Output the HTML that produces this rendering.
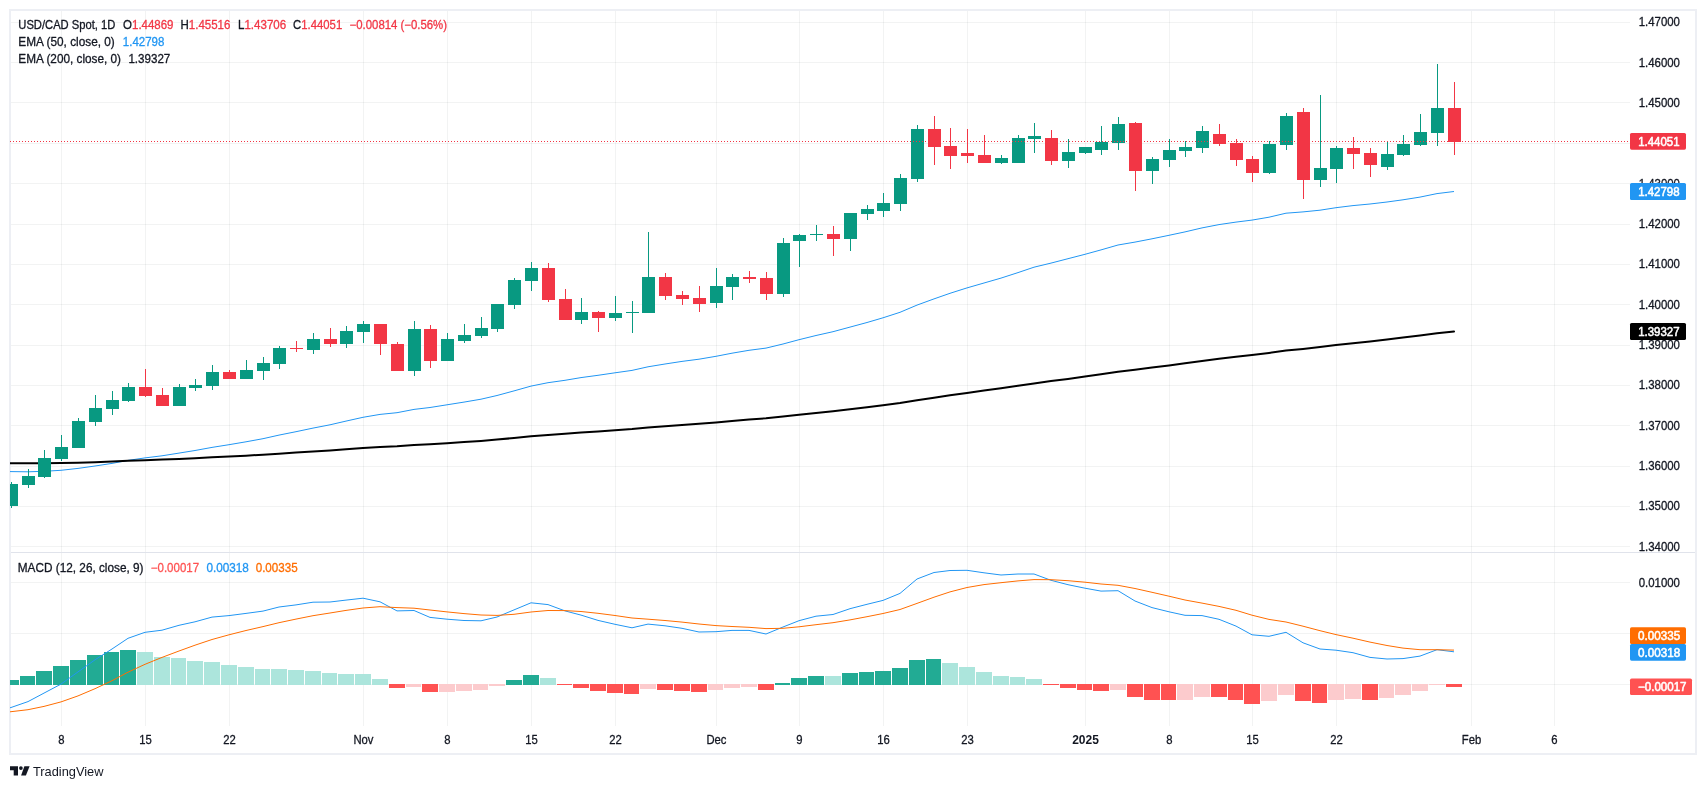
<!DOCTYPE html>
<html lang="en"><head><meta charset="utf-8"><title>USD/CAD Spot, 1D</title>
<style>html,body{margin:0;padding:0;background:#fff}body{width:1706px;height:789px;position:relative;overflow:hidden;font-family:"Liberation Sans",Arial,sans-serif}</style>
</head><body>
<svg width="1706" height="789" viewBox="0 0 1706 789" style="position:absolute;left:0;top:0;will-change:transform">
<defs><clipPath id="cm"><rect x="10" y="11" width="1620" height="541"/></clipPath><clipPath id="cd"><rect x="10" y="553" width="1620" height="173"/></clipPath></defs>
<g fill="#2a2e39" fill-opacity="0.06" shape-rendering="crispEdges"><rect x="61" y="11" width="1" height="541"/><rect x="61" y="553" width="1" height="173"/><rect x="145" y="11" width="1" height="541"/><rect x="145" y="553" width="1" height="173"/><rect x="229" y="11" width="1" height="541"/><rect x="229" y="553" width="1" height="173"/><rect x="363" y="11" width="1" height="541"/><rect x="363" y="553" width="1" height="173"/><rect x="447" y="11" width="1" height="541"/><rect x="447" y="553" width="1" height="173"/><rect x="531" y="11" width="1" height="541"/><rect x="531" y="553" width="1" height="173"/><rect x="615" y="11" width="1" height="541"/><rect x="615" y="553" width="1" height="173"/><rect x="716" y="11" width="1" height="541"/><rect x="716" y="553" width="1" height="173"/><rect x="799" y="11" width="1" height="541"/><rect x="799" y="553" width="1" height="173"/><rect x="883" y="11" width="1" height="541"/><rect x="883" y="553" width="1" height="173"/><rect x="967" y="11" width="1" height="541"/><rect x="967" y="553" width="1" height="173"/><rect x="1085" y="11" width="1" height="541"/><rect x="1085" y="553" width="1" height="173"/><rect x="1169" y="11" width="1" height="541"/><rect x="1169" y="553" width="1" height="173"/><rect x="1252" y="11" width="1" height="541"/><rect x="1252" y="553" width="1" height="173"/><rect x="1336" y="11" width="1" height="541"/><rect x="1336" y="553" width="1" height="173"/><rect x="1471" y="11" width="1" height="541"/><rect x="1471" y="553" width="1" height="173"/><rect x="1554" y="11" width="1" height="541"/><rect x="1554" y="553" width="1" height="173"/><rect x="11" y="22" width="1619" height="1"/><rect x="11" y="62" width="1619" height="1"/><rect x="11" y="102" width="1619" height="1"/><rect x="11" y="143" width="1619" height="1"/><rect x="11" y="183" width="1619" height="1"/><rect x="11" y="224" width="1619" height="1"/><rect x="11" y="264" width="1619" height="1"/><rect x="11" y="304" width="1619" height="1"/><rect x="11" y="345" width="1619" height="1"/><rect x="11" y="385" width="1619" height="1"/><rect x="11" y="425" width="1619" height="1"/><rect x="11" y="466" width="1619" height="1"/><rect x="11" y="506" width="1619" height="1"/><rect x="11" y="546" width="1619" height="1"/><rect x="11" y="582" width="1619" height="1"/><rect x="11" y="633" width="1619" height="1"/><rect x="11" y="684" width="1619" height="1"/></g>
<g fill="#edeff4" shape-rendering="crispEdges"><rect x="9" y="9" width="1688" height="2"/><rect x="9" y="753" width="1688" height="2"/><rect x="9" y="9" width="2" height="746"/><rect x="1695" y="9" width="2" height="746"/></g>
<rect x="11" y="552" width="1684" height="1" fill="#e0e3eb" shape-rendering="crispEdges"/>
<g clip-path="url(#cm)">
<polyline points="-5.8,471.1 11.0,471.6 28.0,471.8 44.0,471.3 61.0,470.3 78.0,468.4 95.0,466.0 112.0,463.4 128.0,460.4 145.0,457.9 162.0,455.8 179.0,453.1 195.0,450.5 212.0,447.4 229.0,444.7 246.0,441.8 263.0,438.7 279.0,435.1 296.0,431.7 313.0,428.1 330.0,424.8 346.0,421.1 363.0,417.3 380.0,414.4 397.0,412.7 414.0,409.4 430.0,407.5 447.0,404.8 464.0,402.1 481.0,399.2 497.0,395.5 514.0,390.9 531.0,386.1 548.0,382.7 565.0,380.3 581.0,377.6 598.0,375.3 615.0,372.8 632.0,370.4 648.0,366.8 665.0,364.0 682.0,361.4 699.0,359.2 716.0,356.3 732.0,353.2 749.0,350.3 766.0,348.1 783.0,344.0 799.0,339.7 816.0,335.5 833.0,331.7 850.0,327.1 867.0,322.5 883.0,317.8 900.0,312.3 917.0,305.1 934.0,298.9 950.0,293.3 967.0,287.9 984.0,283.0 1001.0,278.1 1018.0,272.6 1034.0,267.2 1051.0,263.1 1068.0,258.7 1085.0,254.3 1101.0,249.9 1118.0,245.0 1135.0,242.1 1152.0,238.8 1169.0,235.3 1185.0,231.9 1202.0,227.9 1219.0,224.6 1236.0,222.1 1252.0,220.1 1269.0,217.2 1286.0,213.2 1303.0,211.9 1320.0,210.2 1336.0,207.7 1353.0,205.6 1370.0,204.0 1387.0,202.0 1403.0,199.8 1420.0,197.1 1437.0,193.6 1454.0,191.5" fill="none" stroke="#2196f3" stroke-width="1" stroke-linejoin="round" stroke-linecap="butt" />
<polyline points="-5.8,463.3 11.0,463.2 28.0,463.3 44.0,463.3 61.0,463.1 78.0,462.7 95.0,462.2 112.0,461.5 128.0,460.8 145.0,460.2 162.0,459.6 179.0,458.9 195.0,458.2 212.0,457.3 229.0,456.5 246.0,455.7 263.0,454.7 279.0,453.7 296.0,452.6 313.0,451.5 330.0,450.4 346.0,449.2 363.0,448.0 380.0,447.0 397.0,446.2 414.0,445.0 430.0,444.2 447.0,443.2 464.0,442.1 481.0,440.9 497.0,439.6 514.0,438.0 531.0,436.3 548.0,434.9 565.0,433.8 581.0,432.6 598.0,431.4 615.0,430.3 632.0,429.1 648.0,427.6 665.0,426.3 682.0,425.0 699.0,423.8 716.0,422.4 732.0,421.0 749.0,419.6 766.0,418.3 783.0,416.6 799.0,414.8 816.0,413.0 833.0,411.2 850.0,409.3 867.0,407.3 883.0,405.2 900.0,403.0 917.0,400.2 934.0,397.7 950.0,395.3 967.0,392.9 984.0,390.6 1001.0,388.3 1018.0,385.8 1034.0,383.4 1051.0,381.1 1068.0,378.9 1085.0,376.5 1101.0,374.2 1118.0,371.7 1135.0,369.7 1152.0,367.6 1169.0,365.5 1185.0,363.3 1202.0,361.0 1219.0,358.8 1236.0,356.8 1252.0,355.0 1269.0,352.9 1286.0,350.5 1303.0,348.9 1320.0,347.1 1336.0,345.1 1353.0,343.2 1370.0,341.4 1387.0,339.5 1403.0,337.6 1420.0,335.5 1437.0,333.3 1454.0,331.4" fill="none" stroke="#000000" stroke-width="2" stroke-linejoin="round" stroke-linecap="round" />
<g fill="#089981" shape-rendering="crispEdges"><rect x="11" y="482" width="1" height="26"/><rect x="5" y="484" width="13" height="22"/><rect x="28" y="469" width="1" height="19"/><rect x="22" y="476" width="13" height="9"/><rect x="44" y="450" width="1" height="28"/><rect x="38" y="458" width="13" height="19"/><rect x="61" y="435" width="1" height="26"/><rect x="55" y="447" width="13" height="12"/><rect x="78" y="418" width="1" height="30"/><rect x="72" y="421" width="13" height="27"/><rect x="95" y="395" width="1" height="31"/><rect x="89" y="408" width="13" height="14"/><rect x="112" y="391" width="1" height="24"/><rect x="106" y="400" width="13" height="9"/><rect x="128" y="383" width="1" height="19"/><rect x="122" y="387" width="13" height="14"/><rect x="179" y="384" width="1" height="22"/><rect x="173" y="387" width="13" height="19"/><rect x="195" y="379" width="1" height="12"/><rect x="189" y="385" width="13" height="3"/><rect x="212" y="365" width="1" height="25"/><rect x="206" y="372" width="13" height="14"/><rect x="246" y="360" width="1" height="19"/><rect x="240" y="370" width="13" height="9"/><rect x="263" y="357" width="1" height="23"/><rect x="257" y="363" width="13" height="8"/><rect x="279" y="346" width="1" height="23"/><rect x="273" y="348" width="13" height="16"/><rect x="313" y="333" width="1" height="21"/><rect x="307" y="339" width="13" height="11"/><rect x="346" y="326" width="1" height="22"/><rect x="340" y="331" width="13" height="13"/><rect x="363" y="321" width="1" height="22"/><rect x="357" y="324" width="13" height="8"/><rect x="414" y="321" width="1" height="55"/><rect x="408" y="329" width="13" height="42"/><rect x="447" y="333" width="1" height="28"/><rect x="441" y="339" width="13" height="22"/><rect x="464" y="324" width="1" height="19"/><rect x="458" y="335" width="13" height="6"/><rect x="481" y="317" width="1" height="21"/><rect x="475" y="328" width="13" height="8"/><rect x="497" y="304" width="1" height="28"/><rect x="491" y="304" width="13" height="25"/><rect x="514" y="278" width="1" height="31"/><rect x="508" y="280" width="13" height="25"/><rect x="531" y="262" width="1" height="29"/><rect x="525" y="268" width="13" height="13"/><rect x="581" y="298" width="1" height="26"/><rect x="575" y="312" width="13" height="8"/><rect x="615" y="296" width="1" height="25"/><rect x="609" y="313" width="13" height="5"/><rect x="632" y="301" width="1" height="32"/><rect x="626" y="312" width="13" height="1"/><rect x="648" y="232" width="1" height="81"/><rect x="642" y="277" width="13" height="36"/><rect x="716" y="268" width="1" height="40"/><rect x="710" y="286" width="13" height="17"/><rect x="732" y="274" width="1" height="26"/><rect x="726" y="277" width="13" height="10"/><rect x="783" y="238" width="1" height="59"/><rect x="777" y="243" width="13" height="51"/><rect x="799" y="234" width="1" height="33"/><rect x="793" y="235" width="13" height="6"/><rect x="816" y="225" width="1" height="16"/><rect x="810" y="234" width="13" height="1"/><rect x="850" y="213" width="1" height="38"/><rect x="844" y="213" width="13" height="26"/><rect x="867" y="205" width="1" height="15"/><rect x="861" y="209" width="13" height="5"/><rect x="883" y="193" width="1" height="24"/><rect x="877" y="203" width="13" height="8"/><rect x="900" y="174" width="1" height="37"/><rect x="894" y="178" width="13" height="26"/><rect x="917" y="125" width="1" height="57"/><rect x="911" y="129" width="13" height="50"/><rect x="1001" y="155" width="1" height="9"/><rect x="995" y="158" width="13" height="5"/><rect x="1018" y="135" width="1" height="28"/><rect x="1012" y="138" width="13" height="25"/><rect x="1034" y="123" width="1" height="30"/><rect x="1028" y="136" width="13" height="3"/><rect x="1068" y="139" width="1" height="29"/><rect x="1062" y="152" width="13" height="9"/><rect x="1085" y="147" width="1" height="7"/><rect x="1079" y="147" width="13" height="6"/><rect x="1101" y="126" width="1" height="29"/><rect x="1095" y="142" width="13" height="8"/><rect x="1118" y="117" width="1" height="33"/><rect x="1112" y="124" width="13" height="19"/><rect x="1152" y="157" width="1" height="27"/><rect x="1146" y="159" width="13" height="12"/><rect x="1169" y="139" width="1" height="28"/><rect x="1163" y="150" width="13" height="10"/><rect x="1185" y="141" width="1" height="16"/><rect x="1179" y="147" width="13" height="4"/><rect x="1202" y="126" width="1" height="27"/><rect x="1196" y="131" width="13" height="17"/><rect x="1269" y="141" width="1" height="33"/><rect x="1263" y="144" width="13" height="29"/><rect x="1286" y="113" width="1" height="37"/><rect x="1280" y="116" width="13" height="29"/><rect x="1320" y="95" width="1" height="92"/><rect x="1314" y="168" width="13" height="12"/><rect x="1336" y="146" width="1" height="37"/><rect x="1330" y="148" width="13" height="21"/><rect x="1387" y="141" width="1" height="29"/><rect x="1381" y="154" width="13" height="13"/><rect x="1403" y="135" width="1" height="21"/><rect x="1397" y="144" width="13" height="11"/><rect x="1420" y="114" width="1" height="32"/><rect x="1414" y="132" width="13" height="13"/><rect x="1437" y="64" width="1" height="82"/><rect x="1431" y="108" width="13" height="25"/></g>
<g fill="#f23645" shape-rendering="crispEdges"><rect x="145" y="369" width="1" height="28"/><rect x="139" y="387" width="13" height="9"/><rect x="162" y="388" width="1" height="18"/><rect x="156" y="395" width="13" height="11"/><rect x="229" y="370" width="1" height="9"/><rect x="223" y="372" width="13" height="7"/><rect x="296" y="341" width="1" height="11"/><rect x="290" y="348" width="13" height="1"/><rect x="330" y="328" width="1" height="19"/><rect x="324" y="339" width="13" height="5"/><rect x="380" y="324" width="1" height="31"/><rect x="374" y="324" width="13" height="20"/><rect x="397" y="342" width="1" height="29"/><rect x="391" y="344" width="13" height="27"/><rect x="430" y="325" width="1" height="43"/><rect x="424" y="329" width="13" height="32"/><rect x="548" y="263" width="1" height="39"/><rect x="542" y="268" width="13" height="32"/><rect x="565" y="289" width="1" height="31"/><rect x="559" y="299" width="13" height="21"/><rect x="598" y="311" width="1" height="21"/><rect x="592" y="312" width="13" height="6"/><rect x="665" y="273" width="1" height="27"/><rect x="659" y="277" width="13" height="19"/><rect x="682" y="291" width="1" height="14"/><rect x="676" y="295" width="13" height="4"/><rect x="699" y="286" width="1" height="26"/><rect x="693" y="298" width="13" height="6"/><rect x="749" y="271" width="1" height="12"/><rect x="743" y="277" width="13" height="2"/><rect x="766" y="272" width="1" height="28"/><rect x="760" y="278" width="13" height="16"/><rect x="833" y="226" width="1" height="30"/><rect x="827" y="234" width="13" height="5"/><rect x="934" y="116" width="1" height="49"/><rect x="928" y="129" width="13" height="18"/><rect x="950" y="128" width="1" height="41"/><rect x="944" y="146" width="13" height="10"/><rect x="967" y="129" width="1" height="34"/><rect x="961" y="153" width="13" height="3"/><rect x="984" y="135" width="1" height="28"/><rect x="978" y="155" width="13" height="8"/><rect x="1051" y="130" width="1" height="35"/><rect x="1045" y="138" width="13" height="23"/><rect x="1135" y="122" width="1" height="69"/><rect x="1129" y="123" width="13" height="48"/><rect x="1219" y="124" width="1" height="22"/><rect x="1213" y="134" width="13" height="10"/><rect x="1236" y="139" width="1" height="27"/><rect x="1230" y="143" width="13" height="17"/><rect x="1252" y="156" width="1" height="26"/><rect x="1246" y="159" width="13" height="14"/><rect x="1303" y="108" width="1" height="91"/><rect x="1297" y="112" width="13" height="68"/><rect x="1353" y="137" width="1" height="32"/><rect x="1347" y="148" width="13" height="6"/><rect x="1370" y="148" width="1" height="29"/><rect x="1364" y="153" width="13" height="12"/><rect x="1454" y="82" width="1" height="73"/><rect x="1448" y="108" width="13" height="34"/></g>
<line x1="10" y1="141.5" x2="1630" y2="141.5" stroke="#f23645" stroke-width="1" stroke-dasharray="1 2" shape-rendering="crispEdges"/>
</g>
<g clip-path="url(#cd)">
<g fill="#22ab94" shape-rendering="crispEdges"><rect x="3" y="680" width="16" height="5"/><rect x="20" y="676" width="15" height="9"/><rect x="36" y="671" width="16" height="14"/><rect x="53" y="666" width="16" height="19"/><rect x="70" y="660" width="16" height="25"/><rect x="87" y="655" width="16" height="30"/><rect x="104" y="652" width="15" height="33"/><rect x="120" y="650" width="16" height="35"/><rect x="506" y="680" width="16" height="5"/><rect x="523" y="675" width="16" height="10"/><rect x="775" y="683" width="15" height="2"/><rect x="791" y="678" width="16" height="7"/><rect x="808" y="676" width="16" height="9"/><rect x="842" y="673" width="16" height="12"/><rect x="859" y="672" width="15" height="13"/><rect x="875" y="671" width="16" height="14"/><rect x="892" y="668" width="16" height="17"/><rect x="909" y="660" width="16" height="25"/><rect x="926" y="659" width="15" height="26"/></g>
<g fill="#ace5dc" shape-rendering="crispEdges"><rect x="137" y="652" width="16" height="33"/><rect x="154" y="657" width="16" height="28"/><rect x="171" y="658" width="15" height="27"/><rect x="187" y="661" width="16" height="24"/><rect x="204" y="662" width="16" height="23"/><rect x="221" y="665" width="16" height="20"/><rect x="238" y="667" width="16" height="18"/><rect x="255" y="669" width="15" height="16"/><rect x="271" y="669" width="16" height="16"/><rect x="288" y="670" width="16" height="15"/><rect x="305" y="671" width="16" height="14"/><rect x="322" y="673" width="15" height="12"/><rect x="338" y="674" width="16" height="11"/><rect x="355" y="674" width="16" height="11"/><rect x="372" y="679" width="16" height="6"/><rect x="540" y="678" width="16" height="7"/><rect x="825" y="676" width="16" height="9"/><rect x="942" y="663" width="16" height="22"/><rect x="959" y="667" width="16" height="18"/><rect x="976" y="672" width="16" height="13"/><rect x="993" y="676" width="16" height="9"/><rect x="1010" y="677" width="15" height="8"/><rect x="1026" y="679" width="16" height="6"/></g>
<g fill="#fccbcd" shape-rendering="crispEdges"><rect x="406" y="684" width="15" height="3"/><rect x="439" y="684" width="16" height="8"/><rect x="456" y="684" width="16" height="7"/><rect x="473" y="684" width="15" height="6"/><rect x="489" y="684" width="16" height="2"/><rect x="640" y="684" width="16" height="5"/><rect x="708" y="684" width="15" height="6"/><rect x="724" y="684" width="16" height="4"/><rect x="741" y="684" width="16" height="3"/><rect x="1110" y="684" width="16" height="6"/><rect x="1177" y="684" width="16" height="16"/><rect x="1194" y="684" width="16" height="13"/><rect x="1261" y="684" width="16" height="17"/><rect x="1278" y="684" width="16" height="11"/><rect x="1328" y="684" width="16" height="16"/><rect x="1345" y="684" width="16" height="15"/><rect x="1379" y="684" width="15" height="14"/><rect x="1395" y="684" width="16" height="11"/><rect x="1412" y="684" width="16" height="7"/><rect x="1429" y="684" width="16" height="1"/></g>
<g fill="#ff5252" shape-rendering="crispEdges"><rect x="389" y="684" width="16" height="4"/><rect x="422" y="684" width="16" height="8"/><rect x="557" y="684" width="15" height="1"/><rect x="573" y="684" width="16" height="4"/><rect x="590" y="684" width="16" height="7"/><rect x="607" y="684" width="16" height="9"/><rect x="624" y="684" width="15" height="10"/><rect x="657" y="684" width="16" height="6"/><rect x="674" y="684" width="16" height="7"/><rect x="691" y="684" width="16" height="8"/><rect x="758" y="684" width="16" height="6"/><rect x="1043" y="684" width="16" height="1"/><rect x="1060" y="684" width="16" height="4"/><rect x="1077" y="684" width="15" height="6"/><rect x="1093" y="684" width="16" height="7"/><rect x="1127" y="684" width="16" height="13"/><rect x="1144" y="684" width="16" height="16"/><rect x="1161" y="684" width="15" height="16"/><rect x="1211" y="684" width="16" height="13"/><rect x="1228" y="684" width="15" height="16"/><rect x="1244" y="684" width="16" height="20"/><rect x="1295" y="684" width="16" height="17"/><rect x="1312" y="684" width="15" height="19"/><rect x="1362" y="684" width="16" height="16"/><rect x="1446" y="684" width="16" height="3"/></g>
<polyline points="-5.8,712.0 11.0,707.5 28.0,701.6 44.0,693.1 61.0,684.1 78.0,671.9 95.0,659.8 112.0,649.0 128.0,638.3 145.0,632.3 162.0,630.2 179.0,625.3 195.0,621.8 212.0,617.1 229.0,615.6 246.0,613.4 263.0,611.1 279.0,607.0 296.0,604.9 313.0,602.2 330.0,602.0 346.0,600.1 363.0,598.2 380.0,601.8 397.0,610.9 414.0,610.5 430.0,617.4 447.0,619.2 464.0,620.5 481.0,620.8 497.0,617.0 514.0,609.9 531.0,602.8 548.0,604.6 565.0,610.9 581.0,615.1 598.0,620.4 615.0,624.3 632.0,627.8 648.0,624.1 665.0,625.8 682.0,628.3 699.0,632.0 716.0,631.7 732.0,630.4 749.0,630.4 766.0,634.0 783.0,627.0 799.0,620.7 816.0,616.2 833.0,614.5 850.0,608.7 867.0,604.3 883.0,600.4 900.0,593.4 917.0,579.0 934.0,572.5 950.0,570.5 967.0,570.3 984.0,572.8 1001.0,575.0 1018.0,574.0 1034.0,574.0 1051.0,580.3 1068.0,584.7 1085.0,588.2 1101.0,591.1 1118.0,590.7 1135.0,601.0 1152.0,607.6 1169.0,611.8 1185.0,615.3 1202.0,615.6 1219.0,619.3 1236.0,626.1 1252.0,634.8 1269.0,636.3 1286.0,632.3 1303.0,642.8 1320.0,649.0 1336.0,650.2 1353.0,652.7 1370.0,657.4 1387.0,659.0 1403.0,658.6 1420.0,656.1 1437.0,649.7 1454.0,651.8" fill="none" stroke="#2196f3" stroke-width="1" stroke-linejoin="round" stroke-linecap="butt" />
<polyline points="-5.8,713.2 11.0,711.7 28.0,709.7 44.0,706.4 61.0,701.9 78.0,695.9 95.0,688.7 112.0,680.7 128.0,672.2 145.0,664.3 162.0,657.4 179.0,651.0 195.0,645.2 212.0,639.5 229.0,634.8 246.0,630.5 263.0,626.6 279.0,622.7 296.0,619.1 313.0,615.7 330.0,613.0 346.0,610.4 363.0,608.0 380.0,606.7 397.0,607.6 414.0,608.2 430.0,610.0 447.0,611.9 464.0,613.6 481.0,615.0 497.0,615.4 514.0,614.3 531.0,612.0 548.0,610.5 565.0,610.6 581.0,611.5 598.0,613.3 615.0,615.5 632.0,618.0 648.0,619.2 665.0,620.5 682.0,622.1 699.0,624.0 716.0,625.6 732.0,626.5 749.0,627.3 766.0,628.6 783.0,628.3 799.0,626.8 816.0,624.7 833.0,622.7 850.0,619.9 867.0,616.7 883.0,613.5 900.0,609.5 917.0,603.4 934.0,597.2 950.0,591.9 967.0,587.5 984.0,584.6 1001.0,582.7 1018.0,580.9 1034.0,579.6 1051.0,579.7 1068.0,580.7 1085.0,582.2 1101.0,584.0 1118.0,585.3 1135.0,588.5 1152.0,592.3 1169.0,596.2 1185.0,600.0 1202.0,603.1 1219.0,606.4 1236.0,610.3 1252.0,615.2 1269.0,619.4 1286.0,622.0 1303.0,626.2 1320.0,630.7 1336.0,634.6 1353.0,638.2 1370.0,642.1 1387.0,645.5 1403.0,648.1 1420.0,649.7 1437.0,649.7 1454.0,650.1" fill="none" stroke="#ff6d00" stroke-width="1" stroke-linejoin="round" stroke-linecap="butt" />
</g>
<g font-family="Liberation Sans, Arial, sans-serif" stroke-width="0.3" stroke-linejoin="round"><text x="18.3" y="28.6" font-size="12" font-weight="normal" textLength="97.1" lengthAdjust="spacingAndGlyphs" xml:space="preserve"><tspan fill="#131722" stroke="#131722">USD/CAD Spot, 1D</tspan></text><text x="123.1" y="28.6" font-size="12" font-weight="normal" textLength="50.4" lengthAdjust="spacingAndGlyphs" xml:space="preserve"><tspan fill="#131722" stroke="#131722">O</tspan><tspan fill="#f23645" stroke="#f23645">1.44869</tspan></text><text x="180.5" y="28.6" font-size="12" font-weight="normal" textLength="49.9" lengthAdjust="spacingAndGlyphs" xml:space="preserve"><tspan fill="#131722" stroke="#131722">H</tspan><tspan fill="#f23645" stroke="#f23645">1.45516</tspan></text><text x="238.0" y="28.6" font-size="12" font-weight="normal" textLength="48.2" lengthAdjust="spacingAndGlyphs" xml:space="preserve"><tspan fill="#131722" stroke="#131722">L</tspan><tspan fill="#f23645" stroke="#f23645">1.43706</tspan></text><text x="293.1" y="28.6" font-size="12" font-weight="normal" textLength="49.1" lengthAdjust="spacingAndGlyphs" xml:space="preserve"><tspan fill="#131722" stroke="#131722">C</tspan><tspan fill="#f23645" stroke="#f23645">1.44051</tspan></text><text x="349.6" y="28.6" font-size="12" font-weight="normal" textLength="97.4" lengthAdjust="spacingAndGlyphs" xml:space="preserve"><tspan fill="#f23645" stroke="#f23645">−0.00814 (−0.56%)</tspan></text><text x="18.3" y="45.7" font-size="12" font-weight="normal" textLength="96.5" lengthAdjust="spacingAndGlyphs" xml:space="preserve"><tspan fill="#131722" stroke="#131722">EMA (50, close, 0)</tspan></text><text x="122.8" y="45.7" font-size="12" font-weight="normal" textLength="41.6" lengthAdjust="spacingAndGlyphs" xml:space="preserve"><tspan fill="#2196f3" stroke="#2196f3">1.42798</tspan></text><text x="18.3" y="62.7" font-size="12" font-weight="normal" textLength="102.7" lengthAdjust="spacingAndGlyphs" xml:space="preserve"><tspan fill="#131722" stroke="#131722">EMA (200, close, 0)</tspan></text><text x="128.4" y="62.7" font-size="12" font-weight="normal" textLength="41.9" lengthAdjust="spacingAndGlyphs" xml:space="preserve"><tspan fill="#131722" stroke="#131722">1.39327</tspan></text><text x="17.8" y="572.2" font-size="12" font-weight="normal" textLength="125.7" lengthAdjust="spacingAndGlyphs" xml:space="preserve"><tspan fill="#131722" stroke="#131722">MACD (12, 26, close, 9)</tspan></text><text x="150.8" y="572.2" font-size="12" font-weight="normal" textLength="48.3" lengthAdjust="spacingAndGlyphs" xml:space="preserve"><tspan fill="#ff5252" stroke="#ff5252">−0.00017</tspan></text><text x="206.4" y="572.2" font-size="12" font-weight="normal" textLength="42.4" lengthAdjust="spacingAndGlyphs" xml:space="preserve"><tspan fill="#2196f3" stroke="#2196f3">0.00318</tspan></text><text x="255.7" y="572.2" font-size="12" font-weight="normal" textLength="42.0" lengthAdjust="spacingAndGlyphs" xml:space="preserve"><tspan fill="#ff6d00" stroke="#ff6d00">0.00335</tspan></text><text x="1638.7" y="26.2" font-size="12" font-weight="normal" textLength="41.3" lengthAdjust="spacingAndGlyphs" xml:space="preserve"><tspan fill="#131722" stroke="#131722">1.47000</tspan></text><text x="1638.7" y="66.6" font-size="12" font-weight="normal" textLength="41.3" lengthAdjust="spacingAndGlyphs" xml:space="preserve"><tspan fill="#131722" stroke="#131722">1.46000</tspan></text><text x="1638.7" y="106.9" font-size="12" font-weight="normal" textLength="41.3" lengthAdjust="spacingAndGlyphs" xml:space="preserve"><tspan fill="#131722" stroke="#131722">1.45000</tspan></text><text x="1638.7" y="147.2" font-size="12" font-weight="normal" textLength="41.3" lengthAdjust="spacingAndGlyphs" xml:space="preserve"><tspan fill="#131722" stroke="#131722">1.44000</tspan></text><text x="1638.7" y="187.6" font-size="12" font-weight="normal" textLength="41.3" lengthAdjust="spacingAndGlyphs" xml:space="preserve"><tspan fill="#131722" stroke="#131722">1.43000</tspan></text><text x="1638.7" y="227.9" font-size="12" font-weight="normal" textLength="41.3" lengthAdjust="spacingAndGlyphs" xml:space="preserve"><tspan fill="#131722" stroke="#131722">1.42000</tspan></text><text x="1638.7" y="268.2" font-size="12" font-weight="normal" textLength="41.3" lengthAdjust="spacingAndGlyphs" xml:space="preserve"><tspan fill="#131722" stroke="#131722">1.41000</tspan></text><text x="1638.7" y="308.6" font-size="12" font-weight="normal" textLength="41.3" lengthAdjust="spacingAndGlyphs" xml:space="preserve"><tspan fill="#131722" stroke="#131722">1.40000</tspan></text><text x="1638.7" y="348.9" font-size="12" font-weight="normal" textLength="41.3" lengthAdjust="spacingAndGlyphs" xml:space="preserve"><tspan fill="#131722" stroke="#131722">1.39000</tspan></text><text x="1638.7" y="389.2" font-size="12" font-weight="normal" textLength="41.3" lengthAdjust="spacingAndGlyphs" xml:space="preserve"><tspan fill="#131722" stroke="#131722">1.38000</tspan></text><text x="1638.7" y="429.5" font-size="12" font-weight="normal" textLength="41.3" lengthAdjust="spacingAndGlyphs" xml:space="preserve"><tspan fill="#131722" stroke="#131722">1.37000</tspan></text><text x="1638.7" y="469.9" font-size="12" font-weight="normal" textLength="41.3" lengthAdjust="spacingAndGlyphs" xml:space="preserve"><tspan fill="#131722" stroke="#131722">1.36000</tspan></text><text x="1638.7" y="510.2" font-size="12" font-weight="normal" textLength="41.3" lengthAdjust="spacingAndGlyphs" xml:space="preserve"><tspan fill="#131722" stroke="#131722">1.35000</tspan></text><text x="1638.7" y="550.5" font-size="12" font-weight="normal" textLength="41.3" lengthAdjust="spacingAndGlyphs" xml:space="preserve"><tspan fill="#131722" stroke="#131722">1.34000</tspan></text><text x="1638.7" y="586.9" font-size="12" font-weight="normal" textLength="41.3" lengthAdjust="spacingAndGlyphs" xml:space="preserve"><tspan fill="#131722" stroke="#131722">0.01000</tspan></text><text x="1638.7" y="637.9" font-size="12" font-weight="normal" textLength="41.3" lengthAdjust="spacingAndGlyphs" xml:space="preserve"><tspan fill="#131722" stroke="#131722">0.00500</tspan></text><text x="1638.7" y="688.9" font-size="12" font-weight="normal" textLength="41.3" lengthAdjust="spacingAndGlyphs" xml:space="preserve"><tspan fill="#131722" stroke="#131722">0.00000</tspan></text></g>
<g font-family="Liberation Sans, Arial, sans-serif" stroke-width="0.55" stroke-linejoin="round"><rect x="1630" y="133" width="56" height="16.69999999999999" rx="1.6" ry="1.6" fill="#f23645"/><text x="1638.2" y="145.5" font-size="12" font-weight="normal" textLength="41.4" lengthAdjust="spacingAndGlyphs" xml:space="preserve"><tspan fill="#ffffff" stroke="#ffffff">1.44051</tspan></text><rect x="1630" y="183" width="56" height="17" rx="1.6" ry="1.6" fill="#2196f3"/><text x="1638.2" y="195.7" font-size="12" font-weight="normal" textLength="41.4" lengthAdjust="spacingAndGlyphs" xml:space="preserve"><tspan fill="#ffffff" stroke="#ffffff">1.42798</tspan></text><rect x="1630" y="323" width="56" height="17" rx="1.6" ry="1.6" fill="#000000"/><text x="1638.2" y="335.7" font-size="12" font-weight="normal" textLength="41.4" lengthAdjust="spacingAndGlyphs" xml:space="preserve"><tspan fill="#ffffff" stroke="#ffffff">1.39327</tspan></text><rect x="1630" y="627.3" width="56" height="16.700000000000045" rx="1.6" ry="1.6" fill="#ff6d00"/><text x="1638.0" y="639.9" font-size="12" font-weight="normal" textLength="42.2" lengthAdjust="spacingAndGlyphs" xml:space="preserve"><tspan fill="#ffffff" stroke="#ffffff">0.00335</tspan></text><rect x="1630" y="644" width="56" height="16.700000000000045" rx="1.6" ry="1.6" fill="#2196f3"/><text x="1638.0" y="656.6" font-size="12" font-weight="normal" textLength="42.2" lengthAdjust="spacingAndGlyphs" xml:space="preserve"><tspan fill="#ffffff" stroke="#ffffff">0.00318</tspan></text><rect x="1630" y="678.6" width="62" height="16.399999999999977" rx="1.6" ry="1.6" fill="#ff5252"/><text x="1638.0" y="691.0" font-size="12" font-weight="normal" textLength="48.5" lengthAdjust="spacingAndGlyphs" xml:space="preserve"><tspan fill="#ffffff" stroke="#ffffff">−0.00017</tspan></text></g>
<g font-family="Liberation Sans, Arial, sans-serif" stroke-width="0.3" stroke-linejoin="round"><text transform="translate(61.5,744.1) scale(0.94,1)" font-size="12" text-anchor="middle" fill="#131722" stroke="#131722">8</text><text transform="translate(145.5,744.1) scale(0.94,1)" font-size="12" text-anchor="middle" fill="#131722" stroke="#131722">15</text><text transform="translate(229.5,744.1) scale(0.94,1)" font-size="12" text-anchor="middle" fill="#131722" stroke="#131722">22</text><text transform="translate(363.5,744.1) scale(0.94,1)" font-size="12" text-anchor="middle" fill="#131722" stroke="#131722">Nov</text><text transform="translate(447.5,744.1) scale(0.94,1)" font-size="12" text-anchor="middle" fill="#131722" stroke="#131722">8</text><text transform="translate(531.5,744.1) scale(0.94,1)" font-size="12" text-anchor="middle" fill="#131722" stroke="#131722">15</text><text transform="translate(615.5,744.1) scale(0.94,1)" font-size="12" text-anchor="middle" fill="#131722" stroke="#131722">22</text><text transform="translate(716.5,744.1) scale(0.94,1)" font-size="12" text-anchor="middle" fill="#131722" stroke="#131722">Dec</text><text transform="translate(799.5,744.1) scale(0.94,1)" font-size="12" text-anchor="middle" fill="#131722" stroke="#131722">9</text><text transform="translate(883.5,744.1) scale(0.94,1)" font-size="12" text-anchor="middle" fill="#131722" stroke="#131722">16</text><text transform="translate(967.5,744.1) scale(0.94,1)" font-size="12" text-anchor="middle" fill="#131722" stroke="#131722">23</text><text x="1085.5" y="744.1" font-size="12" font-weight="bold" text-anchor="middle" fill="#131722" stroke="none">2025</text><text transform="translate(1169.5,744.1) scale(0.94,1)" font-size="12" text-anchor="middle" fill="#131722" stroke="#131722">8</text><text transform="translate(1252.5,744.1) scale(0.94,1)" font-size="12" text-anchor="middle" fill="#131722" stroke="#131722">15</text><text transform="translate(1336.5,744.1) scale(0.94,1)" font-size="12" text-anchor="middle" fill="#131722" stroke="#131722">22</text><text transform="translate(1471.5,744.1) scale(0.94,1)" font-size="12" text-anchor="middle" fill="#131722" stroke="#131722">Feb</text><text transform="translate(1554.5,744.1) scale(0.94,1)" font-size="12" text-anchor="middle" fill="#131722" stroke="#131722">6</text></g>
<g fill="#131722"><path d="M10 766.2H18V775.4H13.7V770.2H10Z"/><circle cx="20.9" cy="768.1" r="1.85"/><path d="M24.4 766.2H29.6L25.9 775.4H21.1Z"/></g>
<text x="33.0" y="775.7" font-size="12.6"  font-family="Liberation Sans, Arial, sans-serif" fill="#131722" textLength="70.5" lengthAdjust="spacingAndGlyphs">TradingView</text>
</svg>
</body></html>
